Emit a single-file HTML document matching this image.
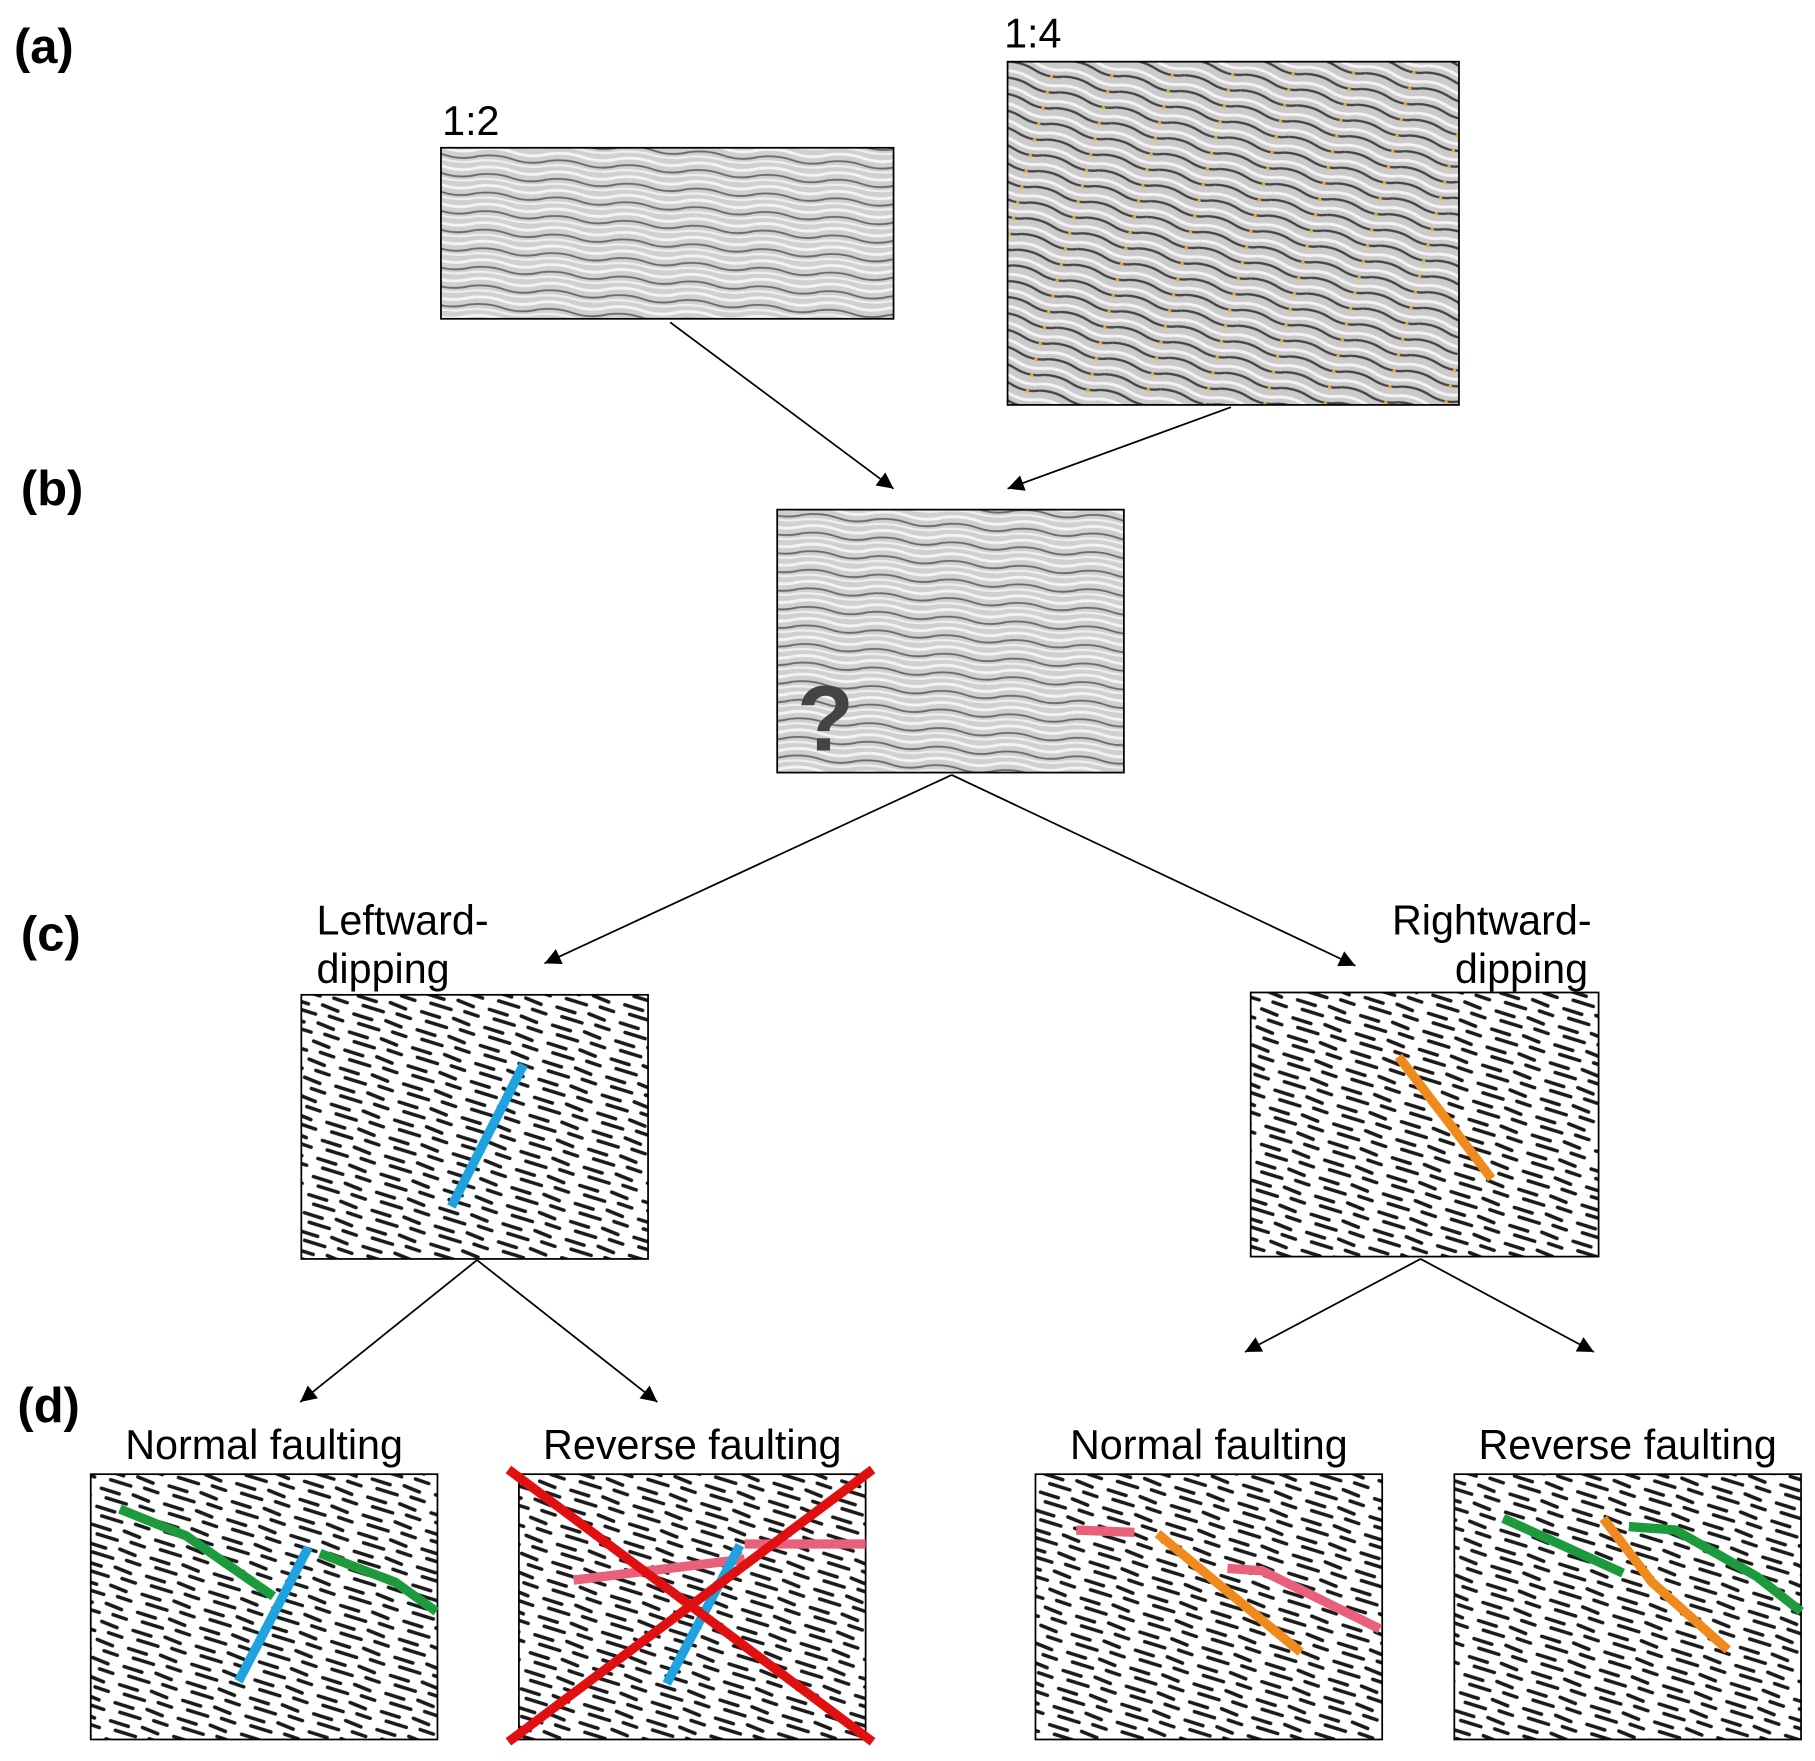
<!DOCTYPE html>
<html><head><meta charset="utf-8"><style>
html,body{margin:0;padding:0;background:#fff}
svg{display:block}
text{font-family:"Liberation Sans",sans-serif}
</style></head><body>
<svg width="1815" height="1761" viewBox="0 0 1560 1513.5" preserveAspectRatio="none" xmlns="http://www.w3.org/2000/svg">
<defs>
<pattern id="gray" width="60" height="16" patternUnits="userSpaceOnUse" patternTransform="rotate(4)">
<rect width="60" height="16" fill="#d0d0d0"/>
<path d="M0 3 Q15 0 30 4 T60 3" stroke="#f4f4f4" stroke-width="2.5" fill="none"/>
<path d="M0 9 Q15 6 30 10 T60 9" stroke="#6a6a6a" stroke-width="1.6" fill="none"/>
<path d="M0 13 Q15 11 30 14 T60 13" stroke="#eee" stroke-width="2" fill="none"/>
</pattern>
<pattern id="grayc" width="50" height="14" patternUnits="userSpaceOnUse" patternTransform="rotate(15)">
<rect width="50" height="14" fill="#cbcbcb"/>
<path d="M0 3 Q12 0 25 4 T50 3" stroke="#f4f4f4" stroke-width="2.5" fill="none"/>
<path d="M0 9 Q12 6 25 10 T50 9" stroke="#444" stroke-width="2" fill="none"/>
<circle cx="40" cy="12" r="1.5" fill="#e8b020"/>
</pattern>
<pattern id="bin" width="56" height="16" patternUnits="userSpaceOnUse" patternTransform="rotate(14)">
<rect width="56" height="16" fill="#fff"/>
<path d="M2 4 L18 5 M30 3 L44 5 M8 11 L26 12 M38 11 L50 12" stroke="#1a1a1a" stroke-width="3" stroke-linecap="round" fill="none"/>
</pattern>
<marker id="a" viewBox="0 0 10 10" markerWidth="16" markerHeight="14" refX="10" refY="5" orient="auto" markerUnits="userSpaceOnUse"><path d="M0 0 L10 5 L0 10 Z" fill="#000"/></marker>
</defs>

<g font-weight="bold" font-size="42">
<text x="12" y="54">(a)</text><text x="18" y="434">(b)</text><text x="18" y="817">(c)</text><text x="15" y="1222">(d)</text>
</g>
<g font-size="35.5">
<text x="380" y="116">1:2</text><text x="863" y="41">1:4</text>
<text x="272" y="803">Leftward-</text><text x="272" y="845">dipping</text>
<text x="1368" y="803" text-anchor="end">Rightward-</text><text x="1365" y="845" text-anchor="end">dipping</text>
<text x="227" y="1254" text-anchor="middle">Normal faulting</text>
<text x="595" y="1254" text-anchor="middle">Reverse faulting</text>
<text x="1039" y="1254" text-anchor="middle">Normal faulting</text>
<text x="1399" y="1254" text-anchor="middle">Reverse faulting</text>
</g>

<g stroke="#000" stroke-width="1.5">
<rect x="379" y="127" width="389" height="147" fill="url(#gray)"/>
<rect x="866" y="53" width="388" height="295" fill="url(#grayc)"/>
<rect x="668" y="438" width="298" height="226" fill="url(#gray)"/>
<rect x="259" y="855" width="298" height="227" fill="url(#bin)"/>
<rect x="1075" y="853" width="299" height="227" fill="url(#bin)"/>
<rect x="78" y="1267" width="298" height="228" fill="url(#bin)"/>
<rect x="446" y="1267" width="298" height="228" fill="url(#bin)"/>
<rect x="890" y="1267" width="298" height="228" fill="url(#bin)"/>
<rect x="1250" y="1267" width="298" height="228" fill="url(#bin)"/>
</g>
<text x="685" y="645" font-size="80" font-weight="bold" fill="#444">?</text>

<g stroke="#000" stroke-width="1.5" fill="none" marker-end="url(#a)">
<line x1="576" y1="277" x2="768" y2="420"/>
<line x1="1058" y1="350" x2="866" y2="420"/>
<line x1="818" y1="666" x2="468" y2="828"/>
<line x1="818" y1="666" x2="1165" y2="830"/>
<line x1="410" y1="1083" x2="258" y2="1205"/>
<line x1="410" y1="1083" x2="565" y2="1205"/>
<line x1="1221" y1="1082" x2="1070" y2="1162"/>
<line x1="1221" y1="1082" x2="1370" y2="1162"/>
</g>

<g fill="none" stroke-width="8" stroke-linecap="butt" stroke-linejoin="round">
<line x1="450" y1="915" x2="388" y2="1037" stroke="#1ea3e0"/>
<line x1="1202" y1="908" x2="1282" y2="1013" stroke="#f08a1c"/>
<polyline points="103,1297 160,1320 235,1372" stroke="#1c9a3c"/>
<line x1="265" y1="1330" x2="205" y2="1445" stroke="#1ea3e0"/>
<polyline points="275,1335 340,1360 375,1385" stroke="#1c9a3c"/>
<line x1="493" y1="1358" x2="640" y2="1340" stroke="#e8607a"/>
<line x1="640" y1="1327" x2="744" y2="1327" stroke="#e8607a"/>
<line x1="636" y1="1328" x2="573" y2="1447" stroke="#1ea3e0"/>
<line x1="925" y1="1315" x2="975" y2="1317" stroke="#e8607a"/>
<line x1="995" y1="1318" x2="1118" y2="1420" stroke="#f08a1c"/>
<polyline points="1055,1348 1085,1350 1186,1400" stroke="#e8607a"/>
<line x1="1292" y1="1305" x2="1395" y2="1352" stroke="#1c9a3c"/>
<polyline points="1378,1305 1420,1360 1485,1418" stroke="#f08a1c"/>
<polyline points="1400,1312 1440,1315 1510,1355 1548,1385" stroke="#1c9a3c"/>
<line x1="437" y1="1263" x2="750" y2="1497" stroke="#e01010"/>
<line x1="750" y1="1263" x2="437" y2="1497" stroke="#e01010"/>
</g>
</svg>
</body></html>
